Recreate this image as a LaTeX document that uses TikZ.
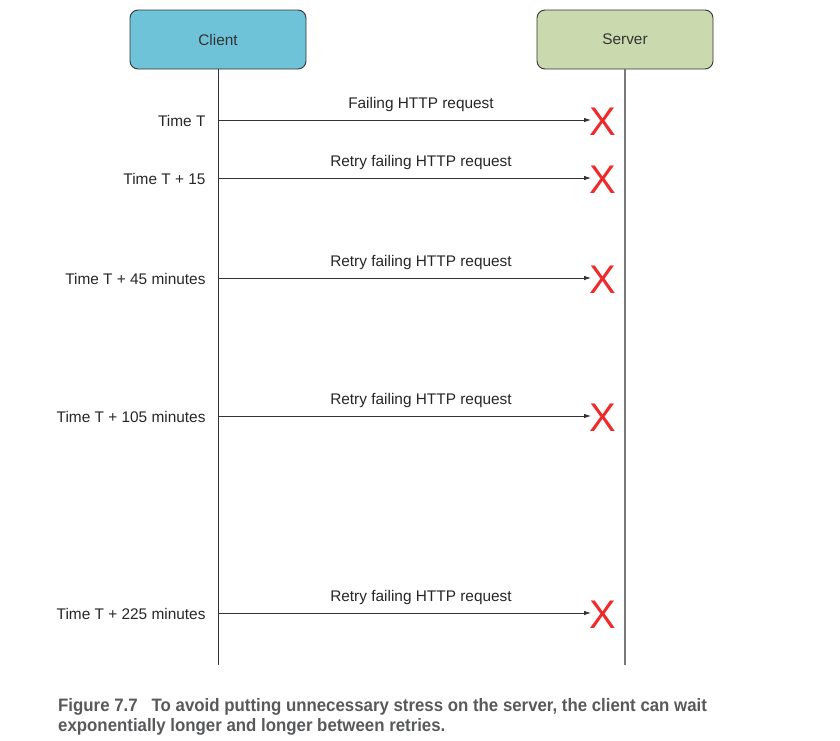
\documentclass[tikz,border=0pt]{standalone}
\usepackage{fontspec}
\setmainfont{Liberation Sans}
\newfontfamily\capfont[FakeStretch=0.935]{Liberation Sans}
\usetikzlibrary{arrows.meta}
\definecolor{clientfill}{HTML}{6FC3D8}
\definecolor{serverfill}{HTML}{CAD9AE}
\definecolor{linegray}{HTML}{333333}
\definecolor{servline}{HTML}{7A7A7A}
\definecolor{xred}{HTML}{EE2A2A}
\definecolor{capgray}{HTML}{58595B}
\tikzset{
  actor/.style={draw=linegray, line width=0.9pt, rounded corners=8pt, minimum width=176pt, minimum height=59pt, inner sep=0pt, font=\fontsize{15.4}{18}\selectfont, text=linegray},
  msg/.style={draw=linegray, line width=0.8pt, -{Latex[length=7pt,width=4.5pt]}},
  msglabel/.style={font=\fontsize{15.4}{18}\selectfont, text=black!85, anchor=base},
  timelabel/.style={font=\fontsize{15.4}{18}\selectfont, text=black!85, anchor=base east},
  failx/.style={font=\fontsize{40}{40}\selectfont, text=xred, inner sep=0pt},
  captext/.style={font=\capfont\bfseries\fontsize{18}{21}\selectfont, text=capgray, anchor=base west, inner sep=0pt}
}
\begin{document}
\begin{tikzpicture}[x=1pt,y=-1pt]
\useasboundingbox (0,0) rectangle (840,740);
\node[actor, fill=clientfill] (client) at (218,39.5) {Client};
\node[actor, fill=serverfill] (server) at (625,39.5) {Server};
\coordinate (cend) at (218,665);
\coordinate (send) at (625,665);
\draw[linegray, line width=0.9pt] (client.south) -- (cend);
\draw[servline, line width=1.2pt] (server.south) -- (send);
\foreach \i/\y/\t/\m in {1/120/Time T/Failing HTTP request,
                          2/178/Time T + 15/Retry failing HTTP request,
                          3/278/Time T + 45 minutes/Retry failing HTTP request,
                          4/416/Time T + 105 minutes/Retry failing HTTP request,
                          5/613/Time T + 225 minutes/Retry failing HTTP request}{
  \coordinate (s\i) at (218,\y);
  \coordinate (e\i) at (591,\y);
  \node[failx] (x\i) at (603,\y+1.5) {X};
  \draw[msg] (s\i) -- (e\i);
  \node[msglabel] (m\i) at (421,\y-12) {\m};
  \node[timelabel] (t\i) at (209,\y+6) {\t};
}
\node[captext] (cap1) at (58,711) {Figure 7.7\hspace{14pt}To avoid putting unnecessary stress on the server, the client can wait};
\node[captext] (cap2) at (58,731) {exponentially longer and longer between retries.};
\end{tikzpicture}
\end{document}
